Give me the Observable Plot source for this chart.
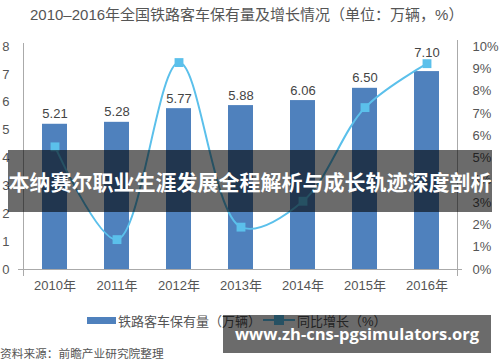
<!DOCTYPE html>
<html><head><meta charset="utf-8">
<script src="https://cdn.jsdelivr.net/npm/d3@7"></script>
<script src="https://cdn.jsdelivr.net/npm/@observablehq/plot@0.6"></script>
<style>
body{margin:0;background:#fff;}
#wrap{position:relative;width:500px;height:362px;overflow:hidden;font-family:"Liberation Sans","Noto Sans CJK SC",sans-serif;color:#555;}
#title{position:absolute;left:30px;top:3px;font-size:15px;white-space:nowrap;color:#555;}
#chart{position:absolute;left:0;top:35px;}
.leg{position:absolute;font-size:13px;white-space:nowrap;color:#555;}
#src{position:absolute;left:0px;top:344px;font-size:11.7px;color:#555;white-space:nowrap;}
#banner{position:absolute;left:8px;top:150px;width:484px;height:62px;background:rgba(0,0,0,0.58);}
#bannerText{position:absolute;left:0;top:150px;width:500px;height:62px;line-height:62px;text-align:center;color:#fff;font-weight:bold;font-size:21px;font-family:"Noto Sans CJK SC",sans-serif;white-space:nowrap;}
#wm{position:absolute;left:223px;top:315px;width:268px;height:38px;background:rgba(0,0,0,0.58);color:#fff;font-weight:bold;font-size:16.5px;line-height:38px;text-align:center;font-family:"Open Sans","DejaVu Sans",sans-serif;white-space:nowrap;}
</style></head>
<body><div id="wrap">
<div id="title">2010–2016年全国铁路客车保有量及增长情况（单位：万辆，%）</div>
<div id="chart"></div>
<div class="leg" style="left:87px;top:317px;width:29px;height:7px;background:#4f81bd"></div>
<div class="leg" style="left:118px;top:311px;">铁路客车保有量（万辆）</div>
<div class="leg" style="left:263px;top:319px;width:32px;height:2px;background:#5bc0eb"></div>
<div class="leg" style="left:274px;top:315px;width:10px;height:10px;background:#5bc0eb"></div>
<div class="leg" style="left:297px;top:311px;">同比增长（%）</div>
<div id="src">资料来源：前瞻产业研究院整理</div>
<div id="banner"></div>
<div id="bannerText">本纳赛尔职业生涯发展全程解析与成长轨迹深度剖析</div>
<div id="wm">www.zh-cns-pgsimulators.org</div>
</div>
<script>
const years = ["2010","2011","2012","2013","2014","2015","2016"];
const stock = [5.21,5.28,5.77,5.88,6.06,6.50,7.10];
const growth = [5.5,1.34,9.28,1.9,3.06,7.26,9.23];
const leftTicks = [0,1,2,3,4,5,6,7,8];
const rightTicks = [0,1,2,3,4,5,6,7,8,9,10];
const k = 0.8; // 10% maps to 8 on the bar scale

const data = years.map((y,i)=>({year:y, stock:stock[i], growth:growth[i]}));
const last = years[years.length-1];

const chart = Plot.plot({
  width:500, height:265,
  marginTop:11, marginBottom:31, marginLeft:23, marginRight:43,
  style:{fontFamily:'"Liberation Sans","Noto Sans CJK SC",sans-serif', fontSize:"13px", color:"#555", background:"transparent"},
  x:{type:"band", domain:years, paddingInner:0.6, paddingOuter:0.3},
  y:{domain:[0,8]},
  marks:[
    Plot.barY(data,{x:"year", y:"stock", fill:"#4f81bd"}),
    Plot.frame({anchor:"left", stroke:"#aaa", insetTop:-3, insetBottom:-6}),
    Plot.frame({anchor:"right", stroke:"#aaa", insetTop:-6, insetBottom:-6}),
    Plot.ruleY([0],{stroke:"#aaa", insetLeft:-5, insetRight:-5}),
    Plot.text(data.filter(d=>d.year!==last),{x:"year", y:"stock", text:d=>d.stock.toFixed(2), dy:-6, lineAnchor:"bottom", fill:"#444", fontSize:13}),
    Plot.text(data.filter(d=>d.year===last),{x:"year", y:"stock", text:d=>d.stock.toFixed(2), dy:-15, lineAnchor:"bottom", fill:"#444", fontSize:13}),
    Plot.line(data,{x:"year", y:d=>d.growth*k, curve:"catmull-rom", stroke:"#5bc0eb", strokeWidth:2}),
    Plot.dot(data,{x:"year", y:d=>d.growth*k, symbol:"square", r:5, fill:"#5bc0eb", stroke:"none"}),
    Plot.axisY({anchor:"left", ticks:leftTicks, tickSize:0, tickPadding:14, label:null, fill:"#555", fontSize:13}),
    Plot.axisY({anchor:"right", ticks:rightTicks.map(v=>v*k), tickFormat:d=>Math.round(d/k)+"%", tickSize:0, tickPadding:15, label:null, fill:"#555", fontSize:13}),
    Plot.axisX({tickSize:0, tickPadding:11, tickFormat:d=>d+"年", label:null, fill:"#555", fontSize:13})
  ]
});
document.getElementById("chart").appendChild(chart);
</script>
</body></html>
